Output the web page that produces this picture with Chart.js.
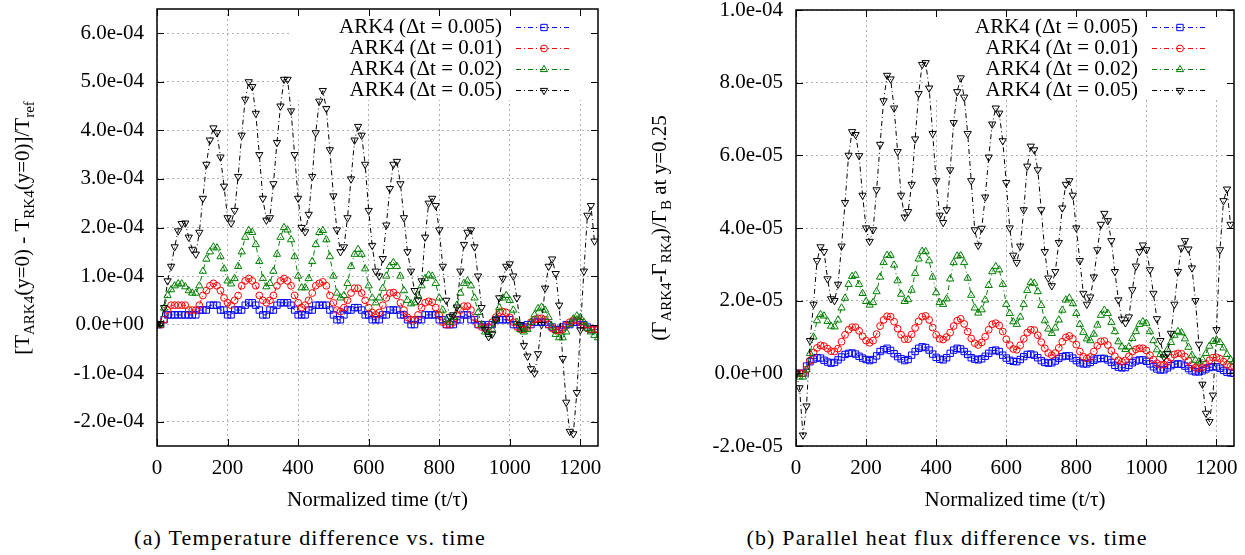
<!DOCTYPE html>
<html><head><meta charset="utf-8">
<script src="https://cdn.jsdelivr.net/npm/chart.js@4.4.1/dist/chart.umd.min.js"></script>
<style>
html,body{margin:0;padding:0;background:#fff;width:1245px;height:555px;overflow:hidden;}
canvas{position:absolute;top:0;}
#cA{left:0;} #cB{left:620px;}
.cap{position:absolute;top:525px;line-height:26px;font-family:'Liberation Serif',serif;font-size:22px;letter-spacing:1.2px;white-space:nowrap;transform:translateX(-50%);color:#000;}
</style></head><body>
<canvas id="cA" width="620" height="520"></canvas>
<canvas id="cB" width="625" height="520"></canvas>
<div class="cap" id="capA" style="left:310px">(a) Temperature difference vs. time</div>
<div class="cap" id="capB" style="left:947px">(b) Parallel heat flux difference vs. time</div>
<script>
// ---------- data ----------
const times = [0,10,20,30,40,50,60,70,80,90,100,110,120,130,140,150,160,170,180,190,
200,210,220,230,240,250,260,270,280,290,300,310,320,330,340,350,360,370,380,390,
400,410,420,430,440,450,460,470,480,490,500,510,520,530,540,550,560,570,580,590,
600,610,620,630,640,650,660,670,680,690,700,710,720,730,740,750,760,770,780,790,
800,810,820,830,840,850,860,870,880,890,900,910,920,930,940,950,960,970,980,990,
1000,1010,1020,1030,1040,1050,1060,1070,1080,1090,1100,1110,1120,1130,1140,1150,1160,1170,1180,1190,
1200,1210,1220,1230,1240,1250];

const seriesLabels = ['ARK4 (\u0394t = 0.005)','ARK4 (\u0394t = 0.01)','ARK4 (\u0394t = 0.02)','ARK4 (\u0394t = 0.05)'];

// (a) temperature difference, values in units of 1e-4
const tempDt005 = [0,0,0.1,0.2,0.2,0.2,0.2,0.2,0.2,0.2,
0.2,0.2,0.3,0.3,0.3,0.4,0.4,0.4,0.3,0.3,
0.2,0.2,0.3,0.3,0.3,0.4,0.45,0.45,0.4,0.3,
0.2,0.2,0.3,0.3,0.4,0.45,0.45,0.45,0.4,0.3,
0.2,0.2,0.2,0.3,0.3,0.4,0.4,0.4,0.4,0.3,
0.2,0.1,0.1,0.2,0.3,0.3,0.35,0.35,0.3,0.2,
0.2,0.1,0.1,0.1,0.2,0.2,0.3,0.3,0.3,0.2,
0.2,0.1,0,0,0.1,0.1,0.2,0.2,0.2,0.2,
0.1,0.1,0,0,0,0.1,0.1,0.2,0.2,0.1,
0.1,0,0,-0.05,0,0,0.1,0.1,0.1,0.1,
0.1,0,0,-0.05,-0.05,0,0,0.05,0.05,0.05,
0.05,0,-0.05,-0.1,-0.1,-0.05,0,0,0.05,0.05,
0,0,-0.05,-0.1,-0.1,-0.1];
const tempDt01 = [0,0,0.1,0.3,0.4,0.4,0.4,0.4,0.4,0.3,
0.3,0.3,0.4,0.6,0.7,0.8,0.85,0.8,0.7,0.55,
0.45,0.4,0.5,0.6,0.8,0.9,0.95,0.9,0.8,0.6,
0.5,0.45,0.5,0.6,0.8,0.9,0.95,0.9,0.8,0.6,
0.45,0.35,0.4,0.5,0.65,0.8,0.85,0.88,0.8,0.6,
0.45,0.3,0.27,0.35,0.5,0.65,0.75,0.75,0.65,0.5,
0.35,0.25,0.2,0.25,0.4,0.55,0.65,0.66,0.6,0.45,
0.3,0.15,0.1,0.1,0.2,0.35,0.45,0.48,0.46,0.35,
0.2,0.05,0,0,0.05,0.2,0.3,0.38,0.38,0.3,
0.15,0,-0.05,-0.07,-0.05,0.05,0.15,0.25,0.27,0.25,
0.15,0.05,-0.05,-0.1,-0.1,-0.05,0.05,0.1,0.13,0.13,
0.1,0,-0.08,-0.12,-0.13,-0.1,-0.02,0.05,0.09,0.09,
0.05,-0.02,-0.08,-0.1,-0.1,-0.1];
const tempDt02 = [0,0,0.34,0.6,0.72,0.8,0.84,0.84,0.78,0.7,
0.65,0.65,0.8,1.1,1.35,1.5,1.6,1.58,1.4,1.15,
0.9,0.84,0.95,1.2,1.5,1.8,1.94,1.9,1.65,1.3,
0.95,0.78,0.85,1.1,1.45,1.8,2.0,1.95,1.75,1.4,
1.0,0.76,0.76,0.95,1.3,1.65,1.9,1.94,1.75,1.4,
1.0,0.65,0.55,0.6,0.85,1.2,1.45,1.55,1.45,1.15,
0.8,0.55,0.45,0.55,0.75,1.0,1.2,1.28,1.2,1.0,
0.7,0.5,0.43,0.45,0.6,0.8,0.95,1.02,1.0,0.85,
0.55,0.3,0.1,0.05,0.15,0.4,0.65,0.85,0.9,0.8,
0.55,0.25,0,-0.15,-0.2,-0.1,0.1,0.35,0.55,0.6,
0.5,0.3,0.05,-0.1,-0.15,-0.1,0.05,0.2,0.33,0.36,
0.3,0.15,-0.05,-0.2,-0.27,-0.27,-0.15,0,0.12,0.18,
0.15,0.05,-0.08,-0.15,-0.22,-0.27];
const tempDt05 = [0,0.02,0.35,0.9,1.2,1.6,1.93,2.08,2.09,1.8,
1.55,1.45,1.9,2.6,3.3,3.8,4.05,3.95,3.45,2.85,
2.2,2.09,2.35,3.05,3.9,4.64,5.0,4.9,4.35,3.5,
2.6,2.15,2.2,2.9,3.75,4.5,5.05,5.05,4.4,3.5,
2.6,2.0,1.91,2.27,3.05,3.95,4.6,4.82,4.45,3.6,
2.65,1.95,1.5,1.6,2.2,3.0,3.8,4.08,3.9,3.3,
2.35,1.63,1.1,1.0,1.36,2.05,2.8,3.3,3.36,2.9,
2.2,1.5,1.1,0.7,0.5,0.9,1.8,2.5,2.6,2.45,
1.95,1.2,0.5,0.16,0.2,0.36,1.1,1.65,1.9,1.95,
1.6,1.0,0.35,-0.1,-0.25,-0.2,0.1,0.55,0.95,1.2,
1.25,1.0,0.55,0,-0.43,-0.65,-0.91,-1.0,-0.6,0,
0.75,1.2,1.35,1.05,0.4,-0.7,-1.6,-2.2,-2.25,-1.4,
-0.11,1.1,2.25,2.45,1.72];

// (b) parallel heat flux difference, values in units of 1e-5
const fluxDt005 = [0,0,0,0.2,0.32,0.39,0.43,0.42,0.36,0.31,
0.28,0.3,0.37,0.45,0.52,0.55,0.56,0.53,0.47,0.42,
0.38,0.35,0.38,0.48,0.6,0.65,0.69,0.63,0.54,0.46,
0.4,0.35,0.38,0.5,0.6,0.69,0.73,0.71,0.64,0.53,
0.44,0.39,0.37,0.43,0.55,0.64,0.69,0.67,0.6,0.52,
0.43,0.39,0.37,0.4,0.47,0.55,0.62,0.64,0.6,0.5,
0.42,0.36,0.33,0.32,0.38,0.46,0.52,0.53,0.5,0.43,
0.35,0.3,0.28,0.29,0.34,0.41,0.46,0.48,0.48,0.42,
0.35,0.29,0.26,0.26,0.3,0.36,0.4,0.41,0.41,0.37,
0.3,0.22,0.17,0.15,0.16,0.22,0.29,0.34,0.37,0.37,
0.33,0.26,0.18,0.12,0.09,0.1,0.15,0.21,0.25,0.26,
0.25,0.2,0.13,0.07,0.04,0.04,0.07,0.12,0.16,0.18,
0.18,0.14,0.08,0.03,0.01,0];
const fluxDt01 = [0,0,0,0.1,0.35,0.57,0.7,0.77,0.75,0.68,
0.61,0.6,0.68,0.87,1.06,1.2,1.27,1.27,1.17,1.02,
0.9,0.84,0.9,1.08,1.3,1.47,1.57,1.56,1.42,1.23,
1.06,0.94,0.94,1.07,1.25,1.43,1.56,1.58,1.47,1.26,
1.06,0.95,0.93,1.0,1.12,1.3,1.45,1.5,1.36,1.15,
0.96,0.83,0.78,0.85,1.01,1.2,1.35,1.38,1.32,1.15,
0.94,0.78,0.67,0.65,0.77,0.95,1.12,1.2,1.19,1.05,
0.86,0.69,0.56,0.5,0.56,0.7,0.87,0.99,1.03,0.95,
0.79,0.6,0.46,0.41,0.45,0.6,0.76,0.88,0.89,0.78,
0.62,0.47,0.36,0.32,0.36,0.47,0.6,0.66,0.69,0.69,
0.63,0.5,0.38,0.28,0.23,0.24,0.32,0.43,0.52,0.55,
0.54,0.46,0.34,0.23,0.16,0.14,0.17,0.26,0.36,0.43,
0.44,0.4,0.32,0.24,0.19,0.18];
const fluxDt02 = [0,-0.1,-0.1,0.1,0.55,1.0,1.45,1.62,1.58,1.43,
1.3,1.28,1.47,1.8,2.07,2.45,2.67,2.7,2.45,2.2,
1.98,1.88,1.95,2.25,2.65,3.05,3.25,3.25,2.98,2.55,
2.18,1.98,2.03,2.29,2.75,3.15,3.36,3.35,3.1,2.65,
2.22,1.95,1.9,2.05,2.6,3.05,3.23,3.24,3.05,2.62,
2.15,1.8,1.66,1.75,2.02,2.42,2.8,2.94,2.85,2.45,
1.9,1.65,1.42,1.35,1.55,1.9,2.28,2.5,2.48,2.25,
1.87,1.45,1.22,1.1,1.25,1.47,1.74,2.02,2.07,1.92,
1.65,1.35,1.13,0.95,0.9,1.08,1.33,1.6,1.74,1.65,
1.4,1.15,0.87,0.73,0.66,0.73,0.96,1.15,1.35,1.42,
1.38,1.15,0.9,0.65,0.52,0.5,0.65,0.85,1.05,1.15,
1.12,0.95,0.72,0.5,0.36,0.32,0.38,0.55,0.75,0.88,
0.92,0.85,0.7,0.52,0.38,0.32];
const fluxDt05 = [0,-0.4,-1.7,-0.9,0.9,1.9,3.1,3.48,3.35,2.6,
2.05,2.0,2.45,3.5,4.7,6.0,6.65,6.57,5.99,4.9,
4.0,3.63,3.95,5.05,6.3,7.5,8.2,8.1,7.3,6.1,
4.9,4.3,4.45,5.2,6.45,7.7,8.5,8.55,7.85,6.6,
5.3,4.35,4.15,4.5,5.6,6.9,7.75,8.13,7.6,6.6,
5.3,3.95,3.52,3.99,4.85,5.95,6.86,7.3,7.16,6.4,
5.25,4.0,3.25,3.05,3.5,4.5,5.7,6.25,6.15,5.6,
4.5,3.35,2.62,2.41,2.8,3.6,4.55,5.2,5.3,4.9,
4.0,3.1,2.2,1.9,2.1,2.65,3.4,4.1,4.4,4.2,
3.65,2.8,2.02,1.49,1.39,1.55,2.3,2.95,3.35,3.53,
3.4,2.85,2.2,1.5,0.9,0.45,0.55,1.1,1.9,2.8,
3.45,3.65,3.42,2.9,2.0,0.8,-0.3,-1.1,-1.33,-0.6,
1.2,3.4,4.75,5.07,4.1];

const xTickValues = [0,200,400,600,800,1000,1200];
const xTickLabels = ['0','200','400','600','800','1000','1200'];
const yTickValuesA = [-2,-1,0,1,2,3,4,5,6];
const yTickLabelsA = ['-2.0e-04','-1.0e-04','0.0e+00','1.0e-04','2.0e-04','3.0e-04','4.0e-04','5.0e-04','6.0e-04'];
const yTickValuesB = [-2,0,2,4,6,8,10];
const yTickLabelsB = ['-2.0e-05','0.0e+00','2.0e-05','4.0e-05','6.0e-05','8.0e-05','1.0e-04'];
const xTitle = 'Normalized time (t/\u03c4)';
const yTitleA = [['[T',0],['ARK4',1],['(y=0) - T',0],['RK4',1],['(y=0)]/T',0],['ref',1]];
const yTitleB = [['(\u0393',0],['ARK4',1],['-\u0393',0],['RK4',1],[')/\u0393',0],['B',1],[' at y=0.25',0]];

// ---------- styles ----------
const FONT = "'Liberation Serif', 'Times New Roman', serif";
const styles = [
  {color:'#0000ff', pointStyle:'rect', radius:4.5, rotation:0},
  {color:'#ff0000', pointStyle:'circle', radius:3.4, rotation:0},
  {color:'#008000', pointStyle:'triangle', radius:4.2, rotation:0},
  {color:'#000000', pointStyle:'triangle', radius:4.2, rotation:180}
];
const DASH = [5,3,1,3];

function toPoints(vals){ return vals.map((v,i)=>({x:times[i], y:v})); }

function makeDatasets(seriesList){
  return seriesList.map((vals,i)=>({
    label: seriesLabels[i],
    data: toPoints(vals),
    showLine: true,
    borderColor: styles[i].color,
    borderWidth: 1,
    borderDash: DASH,
    pointStyle: styles[i].pointStyle,
    pointRadius: styles[i].radius,
    pointRotation: styles[i].rotation,
    pointBorderColor: styles[i].color,
    pointBackgroundColor: 'rgba(0,0,0,0)',
    pointBorderWidth: 1,
    fill: false,
    order: 3 - i
  }));
}

function makeDecor(cfg){
  return {
    id: 'decor',
    beforeDatasetsDraw(chart){
      const {ctx, chartArea:a} = chart;
      ctx.save();
      ctx.fillStyle = '#fff';
      ctx.fillRect(cfg.boxLeft, a.top, a.right - cfg.boxLeft, cfg.boxBottom - a.top);
      ctx.restore();
    },
    afterDatasetsDraw(chart){
      const {ctx, chartArea:a, scales:{x, y}} = chart;
      ctx.save();
      ctx.strokeStyle = '#000';
      ctx.lineWidth = 1;
      ctx.beginPath();
      x.ticks.forEach(t=>{
        const px = Math.round(x.getPixelForValue(t.value)) + 0.5;
        ctx.moveTo(px, a.bottom); ctx.lineTo(px, a.bottom - 7);
        ctx.moveTo(px, a.top); ctx.lineTo(px, a.top + 7);
      });
      y.ticks.forEach(t=>{
        const py = Math.round(y.getPixelForValue(t.value)) + 0.5;
        ctx.moveTo(a.left, py); ctx.lineTo(a.left + 7, py);
        ctx.moveTo(a.right, py); ctx.lineTo(a.right - 7, py);
      });
      ctx.stroke();
      ctx.lineWidth = 1.5;
      ctx.strokeRect(a.left, a.top, a.right - a.left, a.bottom - a.top);
      ctx.restore();
    },
    afterDraw(chart){
      const ctx = chart.ctx;
      ctx.save();
      // legend
      seriesLabels.forEach((lab,i)=>{
        const yy = cfg.legY0 + i*cfg.legDy;
        ctx.font = '21px ' + FONT;
        ctx.fillStyle = '#000';
        ctx.textAlign = 'right';
        ctx.textBaseline = 'middle';
        ctx.fillText(lab, cfg.legTextRight, yy);
        ctx.strokeStyle = styles[i].color;
        ctx.lineWidth = 1;
        ctx.setLineDash(DASH);
        ctx.beginPath();
        ctx.moveTo(cfg.legX1, yy + 0.5); ctx.lineTo(cfg.legX2, yy + 0.5);
        ctx.stroke();
        ctx.setLineDash([]);
        ctx.fillStyle = 'rgba(0,0,0,0)';
        Chart.helpers.drawPoint(ctx, {pointStyle: styles[i].pointStyle, radius: styles[i].radius, rotation: styles[i].rotation, borderWidth: 1}, (cfg.legX1 + cfg.legX2)/2, yy + 0.5);
      });
      // y title with subscripts
      const parts = cfg.yTitle;
      const mainF = '21px ' + FONT, subF = '15px ' + FONT;
      let total = 0;
      parts.forEach(p=>{ ctx.font = p[1] ? subF : mainF; total += ctx.measureText(p[0]).width; });
      ctx.translate(cfg.yTitleX, cfg.yTitleY);
      ctx.rotate(-Math.PI/2);
      ctx.fillStyle = '#000';
      ctx.textAlign = 'left';
      ctx.textBaseline = 'alphabetic';
      let xx = -total/2;
      parts.forEach(p=>{
        ctx.font = p[1] ? subF : mainF;
        ctx.fillText(p[0], xx, p[1] ? 5 : 0);
        xx += ctx.measureText(p[0]).width;
      });
      ctx.restore();
    }
  };
}

function makeChart(id, seriesList, yVals, yLabels, yMin, yMax, geo, decorCfg){
  return new Chart(document.getElementById(id), {
    type: 'scatter',
    data: { datasets: makeDatasets(seriesList) },
    options: {
      responsive: false, animation: false, devicePixelRatio: 1,
      layout: { padding: { left: 0, right: geo.padRight, top: geo.padTop, bottom: 0 } },
      plugins: { legend: {display:false}, tooltip: {enabled:false} },
      scales: {
        x: {
          type: 'linear', min: 0, max: 1250,
          afterBuildTicks: s => { s.ticks = xTickValues.map(v=>({value:v})); },
          afterFit: s => { s.height = 74; s.paddingLeft = 0; s.paddingRight = 0; },
          ticks: { autoSkip:false, maxRotation:0, padding: 10, color:'#000',
                   font:{family:FONT, size:21}, callback:(v,i)=> xTickLabels[i] },
          grid: { color:'#b0b0b0', lineWidth:1, drawTicks:false },
          border: { display:false, dash:[2,3] },
          title: { display:true, text:xTitle, color:'#000', font:{family:FONT, size:21}, padding:{top:0, bottom:7} }
        },
        y: {
          type: 'linear', min: yMin, max: yMax,
          afterBuildTicks: s => { s.ticks = yVals.map(v=>({value:v})); },
          afterFit: s => { s.width = geo.yWidth; s.paddingTop = 0; s.paddingBottom = 0; },
          ticks: { autoSkip:false, padding: 13, color:'#000',
                   font:{family:FONT, size:21}, callback:(v,i)=> yLabels[i] },
          grid: { color:'#b0b0b0', lineWidth:1, drawTicks:false },
          border: { display:false, dash:[2,3] }
        }
      }
    },
    plugins: [makeDecor(decorCfg)]
  });
}

makeChart('cA', [tempDt005, tempDt01, tempDt02, tempDt05], yTickValuesA, yTickLabelsA, -2.5, 6.5,
  {padRight:22, padTop:9, yWidth:157},
  {boxLeft:292, boxBottom:100, legY0:27, legDy:21, legTextRight:502, legX1:516, legX2:572,
   yTitle:yTitleA, yTitleX:29, yTitleY:228});
makeChart('cB', [fluxDt005, fluxDt01, fluxDt02, fluxDt05], yTickValuesB, yTickLabelsB, -2, 10,
  {padRight:11, padTop:10, yWidth:176},
  {boxLeft:304, boxBottom:100, legY0:27, legDy:21, legTextRight:518, legX1:532, legX2:588,
   yTitle:yTitleB, yTitleX:46, yTitleY:228});
</script>
</body></html>
